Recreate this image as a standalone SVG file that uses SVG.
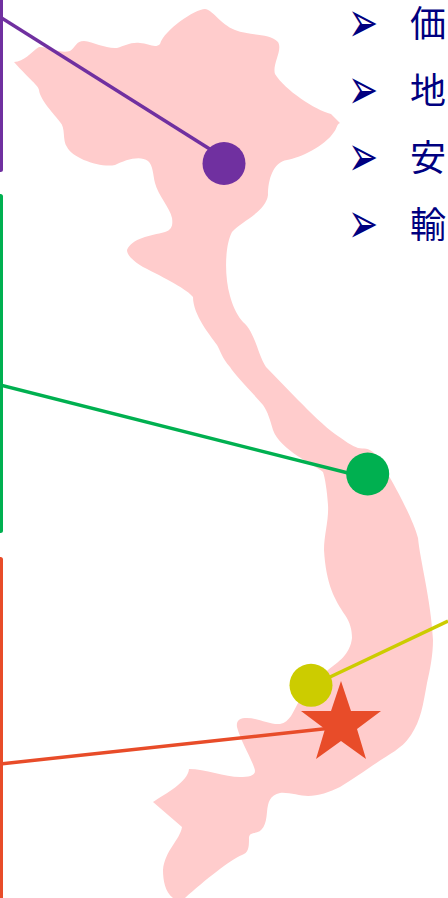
<svg xmlns="http://www.w3.org/2000/svg" width="448" height="898" viewBox="0 0 448 898">
<style>
.b{font-family:"DejaVu Sans",sans-serif;font-size:36px;fill:#000080}
.t{font-family:"Noto Sans CJK JP","Liberation Sans",sans-serif;font-size:36px;fill:#000080}
.l{fill:none;stroke-width:3.500}
</style>
<rect width="448" height="898" fill="#fff"/>
<g id="map">
<path fill="#FFCCCC" d="M14 62C24 62 31 52 39 47C47 46 60 54 70 51C76 47 76 41 84 41C94 42 106 49 117 48C125 46 130 42 140 43C148 43 155 49 160 44C164 30 195 9 205 9C212 9 220 24 235 30C250 36 270 33 278 42C283 50 272 64 275 74C285 90 315 110 331 114L340 123C336 125 337 129 334 132C325 146 300 158 287 160C273 162 268 180 268 195C266 212 240 222 232 232C225 245 224 275 230 296C234 310 238 316 243 322C255 332 258 355 266 367L298 400C310 412 325 427 335 434C345 441 352 446 358 448C364 449 368 447 375 454C385 467 412 515 418 538C420 560 431 600 433 640C433 655 430 670 427 683C423 705 421 720 411 735C405 744 400 747 395 751C380 760 355 778 340 787C330 792 318 796 308 796C300 796 288 792 280 793C270 795 268 802 267 812C266 825 263 832 254 833C249 834 249 836 249 840C249 848 248 853 242 855C230 860 205 880 185 898L173 898C165 892 163 880 163 870C165 850 180 840 182 827L153 802C165 794 188 782 189 769C205 769 225 777 240 777C248 777 255 776 255 771C255 765 240 740 237 727C236 720 240 718 247 718C258 718 270 725 280 724C290 722 293 712 298 703C303 694 315 680 328 670C338 662 350 655 352 638C352 630 350 622 345 615C335 600 326 585 324 550C324 535 329 520 328 505C327 490 325 478 323 472C315 465 280 450 273 430C270 420 268 412 263 405C250 390 235 375 230 367C222 358 220 350 217 345C210 335 193 315 193 297C188 290 165 278 143 267C135 262 127 256 127 250C132 238 150 236 165 232C172 230 173 225 172 218C170 208 158 195 155 183C153 175 153 165 148 161C140 155 125 160 115 165C100 168 72 158 67 147C62 140 66 128 60 122C55 115 40 100 39 90C38 85 30 80 14 62Z"/>
</g>
<g id="connectors">
<line class="l" x1="0" y1="17" x2="224" y2="158" stroke="#7030A0"/>
<line class="l" x1="0" y1="385" x2="360" y2="476" stroke="#00B050"/>
<line class="l" x1="448" y1="621" x2="311" y2="686" stroke="#CCCC00"/>
<line class="l" x1="0" y1="764" x2="341" y2="727" stroke="#E84C29"/>
</g>
<g id="bars">
<rect x="-4" y="-8" width="7" height="180" rx="2.500" fill="#7030A0"/>
<rect x="-4" y="194" width="7" height="339" rx="2.500" fill="#00B050"/>
<rect x="-4" y="557" width="7" height="350" rx="2.500" fill="#E84C29"/>
</g>
<g id="node-north"><circle cx="224" cy="163.500" r="21.500" fill="#7030A0"/></g>
<g id="node-central"><circle cx="367.700" cy="474" r="21.500" fill="#00B050"/></g>
<g id="node-highland"><circle cx="311" cy="685.300" r="21.500" fill="#CCCC00"/></g>
<g id="node-south"><polygon fill="#E84C29" points="341,681 351,711 381,711 357,729 366,759 341,741 316,759 325,729 301,711 331,711"/></g>
<g id="list">
<text class="b" transform="translate(348 42) scale(1 1.600)" y="0">➢</text><text class="t" x="410" y="37">価</text>
<text class="b" transform="translate(348 109) scale(1 1.600)" y="0">➢</text><text class="t" x="410" y="104">地</text>
<text class="b" transform="translate(348 176) scale(1 1.600)" y="0">➢</text><text class="t" x="410" y="171">安</text>
<text class="b" transform="translate(348 243) scale(1 1.600)" y="0">➢</text><text class="t" x="410" y="238">輸</text>
</g>
</svg>
